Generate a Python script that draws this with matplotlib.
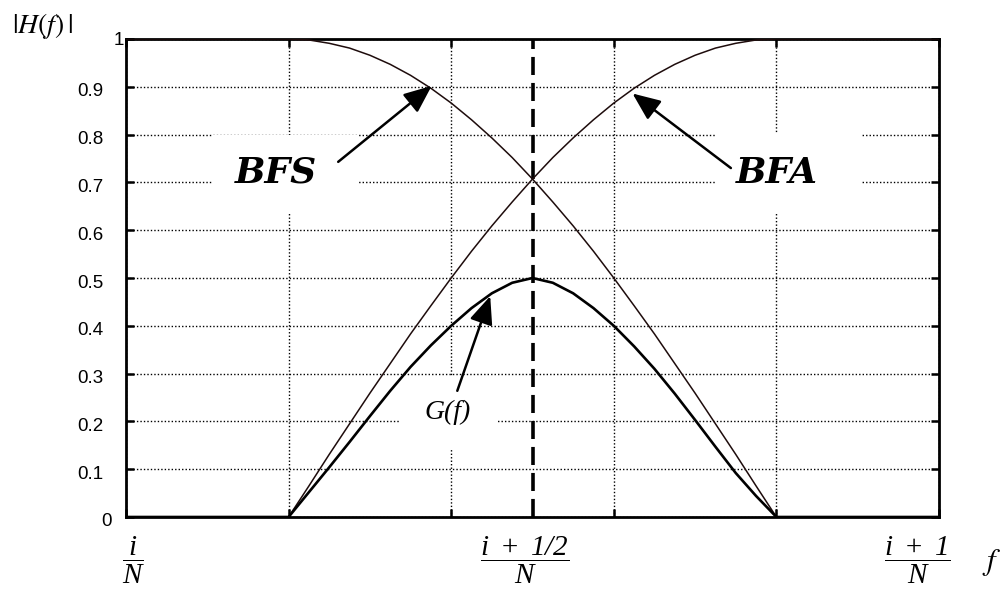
import numpy as np
import matplotlib
matplotlib.use('Agg')
import matplotlib.pyplot as plt
from matplotlib.patches import Rectangle
from matplotlib.transforms import offset_copy

plt.rcParams['mathtext.fontset'] = 'stix'
# italic Times-like face for the frequency fractions (digits included)
plt.rcParams['mathtext.rm'] = 'Liberation Serif:italic'
plt.rcParams['mathtext.it'] = 'Liberation Serif:italic'

# normalised frequency across one bin, i/N -> (i+1)/N
freq = [0.0, 0.2, 0.225, 0.25, 0.275, 0.3, 0.325, 0.35, 0.375, 0.4, 0.425, 0.45, 0.475,
        0.5, 0.525, 0.55, 0.575, 0.6, 0.625, 0.65, 0.675, 0.7, 0.725, 0.75, 0.775, 0.8, 1.0]
bfs = [1.0, 1.0, 0.998, 0.991, 0.981, 0.966, 0.947, 0.924, 0.897, 0.866, 0.831, 0.793, 0.752,
       0.707, 0.659, 0.609, 0.556, 0.500, 0.442, 0.383, 0.321, 0.259, 0.195, 0.131, 0.065, 0.0, 0.0]
bfa = [0.0, 0.0, 0.065, 0.131, 0.195, 0.259, 0.321, 0.383, 0.442, 0.500, 0.556, 0.609, 0.659,
       0.707, 0.752, 0.793, 0.831, 0.866, 0.897, 0.924, 0.947, 0.966, 0.981, 0.991, 0.998, 1.0, 1.0]
gain = [0.0, 0.0, 0.052, 0.104, 0.157, 0.211, 0.264, 0.314, 0.359, 0.400, 0.437, 0.468, 0.490,
        0.500, 0.490, 0.468, 0.437, 0.400, 0.357, 0.310, 0.258, 0.203, 0.147, 0.092, 0.044, 0.0, 0.0]

yticks = [0, 0.1, 0.2, 0.3, 0.4, 0.5, 0.6, 0.7, 0.8, 0.9, 1]
ylabels = ['0', '0.1', '0.2', '0.3', '0.4', '0.5', '0.6', '0.7', '0.8', '0.9', '1']
xgrid = [0, 0.2, 0.4, 0.6, 0.8, 1]
xlabels = [r'$\dfrac{i}{N}$', r'$\dfrac{i\ +\ 1/2}{N}$', r'$\dfrac{i\ +\ 1}{N}$']
names = ['BFS', 'BFA', 'G(f)']

W, H = 1005, 594
fig = plt.figure(figsize=(W / 100, H / 100), dpi=100)
ax = fig.add_axes([126 / W, 1 - 517 / H, 813 / W, 478 / H])
ax.set_xlim(0, 1)
ax.set_ylim(0, 1)
ax.set_axisbelow(True)

for s in ax.spines.values():
    s.set_linewidth(2.0)

ax.set_xticks(xgrid)
ax.set_yticks(yticks)
ax.tick_params(direction='in', length=6, width=1.8, top=True, right=True,
               labelbottom=False, labelleft=False)
ax.grid(True, color='black', linewidth=1.0, linestyle=(0, (1.0, 1.5)))

# white patches behind the curve names (they blank out the grid)
for x0, y0, w, h in [(0.107, 0.636, 0.178, 0.163), (0.7245, 0.636, 0.1805, 0.167),
                     (0.337, 0.140, 0.119, 0.153)]:
    ax.add_patch(Rectangle((x0, y0), w, h, facecolor='white', edgecolor='none', zorder=1))

ax.axvline(0.5, color='black', linewidth=2.6, linestyle=(0, (5.0, 2.2)), zorder=2)

ax.plot(freq, bfs, color='#1e0c0c', linewidth=1.1, zorder=3)
ax.plot(freq, bfa, color='#1e0c0c', linewidth=1.1, zorder=3)
ax.plot(freq, gain, color='black', linewidth=1.9, zorder=3, solid_joinstyle='round')

arrow = dict(arrowstyle='-|>,head_length=1.7,head_width=0.72', mutation_scale=10,
             color='black', lw=1.8, shrinkA=0, shrinkB=0)
ax.annotate('', xy=(0.376, 0.902), xytext=(0.261, 0.743), arrowprops=arrow, zorder=4)
ax.annotate('', xy=(0.623, 0.886), xytext=(0.744, 0.730), arrowprops=arrow, zorder=4)
ax.annotate('', xy=(0.448, 0.462), xytext=(0.4075, 0.264), arrowprops=arrow, zorder=4)

big = dict(family='DejaVu Serif', weight='heavy', style='italic', fontsize=26,
           ha='center', va='center', zorder=5)
ax.text(0.1845, 0.72, names[0], **big)
ax.text(0.801, 0.72, names[1], **big)
ax.text(0.396, 0.218, names[2], family='Liberation Serif', style='italic', fontsize=20,
        ha='center', va='center', zorder=5)

# y tick labels, placed by hand like the original plot
ytr = ax.get_yaxis_transform()
for v, lab in zip(yticks, ylabels):
    dx, dy = -23, -5
    if lab == '0':
        dx, dy = -14, -4.5
    elif lab == '1':
        dx, dy = -2, -1.5
    ax.text(0, v, lab, transform=offset_copy(ytr, fig, x=dx, y=dy, units='dots'),
            family='Liberation Sans', fontsize=13.5, ha='right', va='center')

# fractional frequency labels under the axis
xtr = ax.get_xaxis_transform()
for xv, dx, lab in zip([0, 0.5, 1], [7, -8, -22], xlabels):
    ax.text(xv, 0, lab, transform=offset_copy(xtr, fig, x=dx, y=-43, units='dots'),
            fontsize=21, ha='center', va='center', math_fontfamily='custom')

fig.text(12 / W, 1 - 26 / H, r'$|H(f)\,|$', fontsize=20, ha='left', va='center')
fig.text(992 / W, 1 - 562 / H, r'$f$', fontsize=22, ha='center', va='center')

fig.savefig('out.png', dpi=100)
